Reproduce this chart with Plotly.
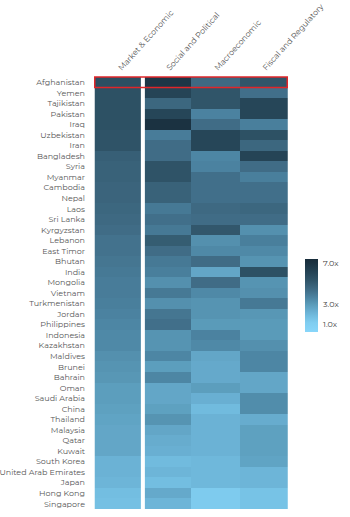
import plotly.graph_objects as go

countries = ["Afghanistan", "Yemen", "Tajikistan", "Pakistan", "Iraq", "Uzbekistan", "Iran",
             "Bangladesh", "Syria", "Myanmar", "Cambodia", "Nepal", "Laos", "Sri Lanka",
             "Kyrgyzstan", "Lebanon", "East Timor", "Bhutan", "India", "Mongolia", "Vietnam",
             "Turkmenistan", "Jordan", "Philippines", "Indonesia", "Kazakhstan", "Maldives",
             "Brunei", "Bahrain", "Oman", "Saudi Arabia", "China", "Thailand", "Malaysia",
             "Qatar", "Kuwait", "South Korea", "United Arab Emirates", "Japan", "Hong Kong",
             "Singapore"]

categories = ["Market & Economic", "Social and Political", "Macroeconomic", "Fiscal and Regulatory"]

market = [5.6, 5.5, 5.5, 5.5, 5.5, 5.4, 5.4, 4.9, 4.8, 4.8, 4.7, 4.7, 4.6, 4.5, 4.4, 4.2,
          4.2, 4.1, 4.0, 3.9, 3.9, 3.8, 3.7, 3.6, 3.5, 3.5, 3.3, 3.2, 3.1, 2.9, 2.9, 2.8,
          2.7, 2.6, 2.6, 2.6, 2.2, 2.2, 2.1, 1.8, 1.7]

social = [6.8, 6.1, 4.6, 6.0, 7.0, 3.9, 4.4, 4.4, 5.4, 5.4, 4.8, 4.8, 4.0, 4.3, 4.0, 5.0,
          4.4, 4.0, 3.8, 3.3, 4.0, 3.3, 4.1, 4.3, 3.2, 3.2, 3.6, 2.9, 3.6, 2.6, 2.6, 2.8,
          3.2, 2.6, 2.4, 2.3, 1.9, 2.1, 1.8, 2.5, 2.1]

macro = [4.5, 5.3, 5.3, 3.7, 4.4, 6.0, 6.0, 3.6, 3.7, 4.3, 4.3, 4.3, 4.5, 4.4, 5.2, 3.3,
         3.5, 4.4, 2.6, 4.4, 3.5, 3.2, 3.2, 3.0, 3.7, 3.5, 2.6, 2.5, 2.5, 2.9, 2.3, 1.9,
         2.2, 2.2, 2.2, 2.2, 2.0, 2.0, 2.0, 1.3, 1.3]

fiscal = [5.3, 4.3, 6.0, 6.0, 3.8, 5.5, 4.6, 6.1, 4.4, 3.8, 4.3, 4.3, 4.6, 4.4, 3.3, 3.8,
          3.5, 3.2, 5.5, 3.2, 3.3, 4.0, 3.1, 3.0, 3.0, 3.3, 3.6, 3.6, 2.6, 2.6, 3.4, 3.4,
          2.4, 2.8, 2.8, 2.8, 2.7, 2.1, 2.1, 1.6, 1.6]

cbar_ticks = [1, 3, 7]
cbar_labels = ["1.0x", "3.0x", "7.0x"]

z = [[m, s, a, f] for m, s, a, f in zip(market, social, macro, fiscal)]

colorscale = [
    [0.0, "rgb(136,214,250)"],
    [0.127, "rgb(128,205,240)"],
    [0.211, "rgb(115,190,225)"],
    [0.282, "rgb(105,175,210)"],
    [0.380, "rgb(90,155,185)"],
    [0.479, "rgb(75,130,160)"],
    [0.592, "rgb(62,105,130)"],
    [0.704, "rgb(48,85,105)"],
    [0.803, "rgb(38,70,88)"],
    [0.944, "rgb(27,50,65)"],
    [1.0, "rgb(24,44,58)"],
]

font_family = "Montserrat, 'Open Sans', sans-serif"

fig = go.Figure(go.Heatmap(
    z=z, x=categories, y=countries,
    colorscale=colorscale, zmin=0.3, zmax=7.4,
    xgap=0, ygap=0,
    colorbar=dict(
        tickvals=cbar_ticks, ticktext=cbar_labels,
        ticks="outside", tickcolor="white", ticklen=4,
        thickness=13, lenmode="pixels", len=73,
        x=1.088, xanchor="left", xpad=0,
        y=0.495, yanchor="middle", ypad=0,
        outlinewidth=0,
        tickfont=dict(family=font_family, size=8, color="#444"),
    ),
    hoverinfo="skip",
))

fig.add_shape(type="line", x0=0.5, x1=0.5, y0=-0.5, y1=len(countries) - 0.5,
              xref="x", yref="y", line=dict(color="white", width=4))
fig.add_shape(type="rect", x0=-0.5, x1=3.5, y0=-0.5, y1=0.5,
              xref="x", yref="y", line=dict(color="#e0262a", width=1.5))

fig.update_layout(
    width=350, height=517,
    margin=dict(l=94, r=62, t=75, b=6, autoexpand=False),
    paper_bgcolor="white", plot_bgcolor="white",
    font=dict(family=font_family, size=8, color="#555"),
    showlegend=False,
)
fig.update_xaxes(side="top", tickangle=-48, showgrid=False, zeroline=False, ticks="",
                 automargin=False, tickfont=dict(size=8, color="#555"))
fig.update_yaxes(autorange="reversed", showgrid=False, zeroline=False, ticks="",
                 automargin=False, ticklabelstandoff=8, tickfont=dict(size=8, color="#555"))

fig.write_html("out.html")
